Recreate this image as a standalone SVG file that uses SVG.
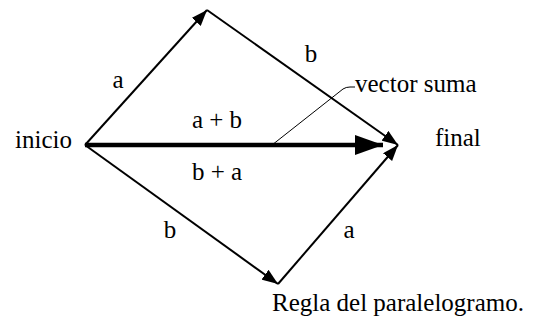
<svg xmlns="http://www.w3.org/2000/svg" width="538" height="324" viewBox="0 0 538 324">
<style>
text{font-family:"Liberation Serif","Times New Roman",serif;font-size:25px;fill:#000}
.thin{stroke:#000;stroke-width:2;fill:none}
.thick{stroke:#000;stroke-width:4.5;fill:none}
.lead{stroke:#000;stroke-width:1;fill:none}
</style>
<defs>
<marker id="ah" markerUnits="userSpaceOnUse" viewBox="0 0 16 12" refX="16" refY="6" markerWidth="16" markerHeight="12" orient="auto">
<path d="M0,0 L16,6 L0,12 Z" fill="#000"/>
</marker>
<marker id="ahb" markerUnits="userSpaceOnUse" viewBox="0 0 28 20" refX="28" refY="10" markerWidth="28" markerHeight="20" orient="auto">
<path d="M0,0 L28,10 L0,20 Z" fill="#000"/>
</marker>
</defs>
<g id="connectors">
<path class="thin" d="M85,145 L207,10" marker-end="url(#ah)"/>
<path class="thin" d="M207,10 L398,145" marker-end="url(#ah)"/>
<path class="thin" d="M85,145 L278,284" marker-end="url(#ah)"/>
<path class="thin" d="M278,284 L398,145" marker-end="url(#ah)"/>
<path class="thick" d="M85,145 L383,145" marker-end="url(#ahb)"/>
<path class="lead" d="M272,145 L343,89 Q346,87 350,87 L355,87"/>
</g>
<g id="labels">
<text x="118" y="88" text-anchor="middle">a</text>
<text x="311" y="62" text-anchor="middle">b</text>
<text x="217" y="128" text-anchor="middle">a + b</text>
<text x="217" y="180" text-anchor="middle">b + a</text>
<text x="170" y="238" text-anchor="middle">b</text>
<text x="349" y="238" text-anchor="middle">a</text>
</g>
<g id="inicio"><text x="15" y="148">inicio</text></g>
<g id="final"><text x="435" y="146">final</text></g>
<g id="vector-suma"><text x="355" y="92">vector suma</text></g>
<g id="caption"><text x="272" y="311">Regla del paralelogramo.</text></g>
</svg>
